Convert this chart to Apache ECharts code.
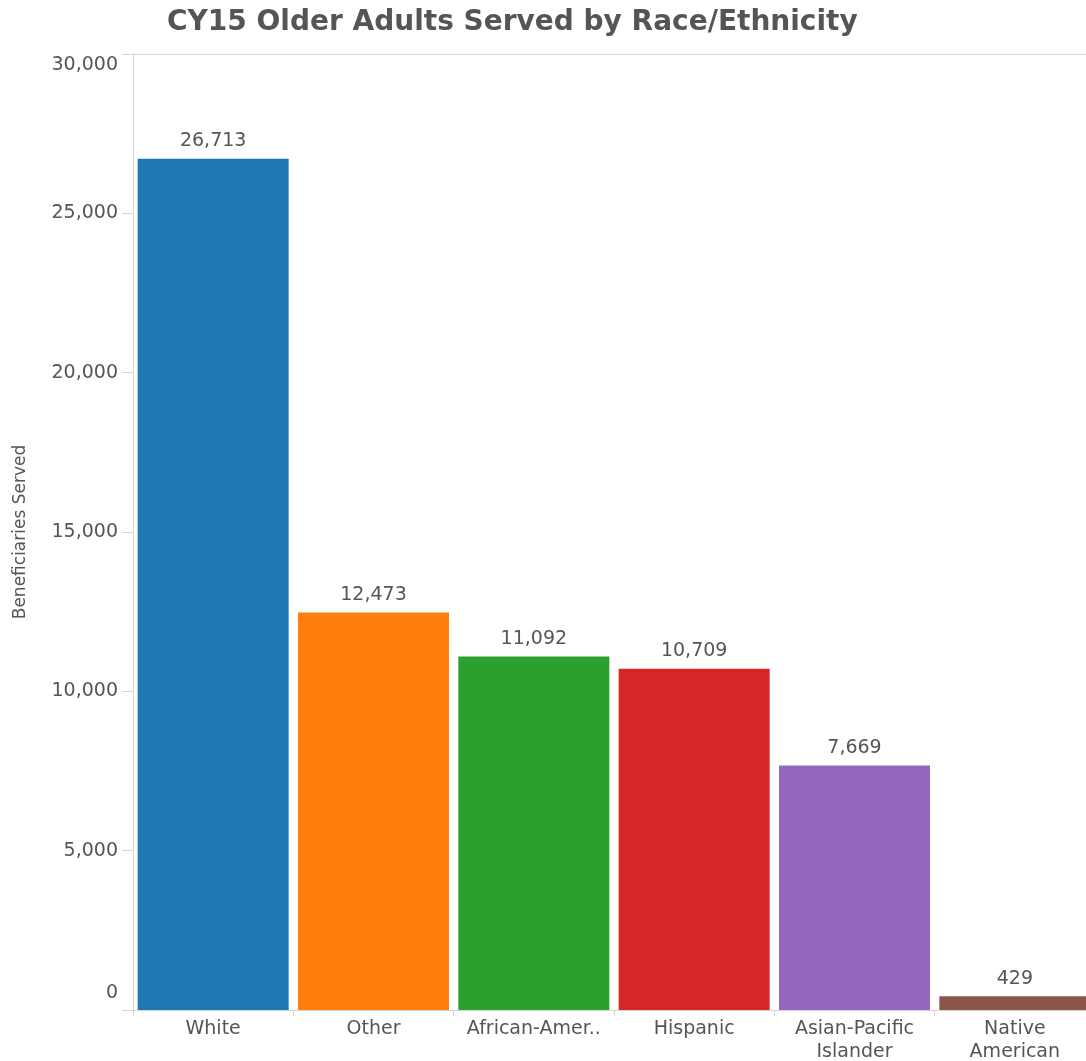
<!DOCTYPE html>
<html>
<head>
<meta charset="utf-8">
<script src="https://cdn.jsdelivr.net/npm/echarts@6/dist/echarts.min.js"></script>
<style>
  html, body { margin: 0; padding: 0; background: #fff; }
  #chart { width: 1086px; height: 1061px; }
</style>
</head>
<body>
<div id="chart"></div>
<script>
// Older adults served in CY15, by race/ethnicity
const groups = ['White', 'Other', 'African-American', 'Hispanic', 'Asian-Pacific Islander', 'Native American'];
const tickLabels = ['White', 'Other', 'African-Amer..', 'Hispanic', 'Asian-Pacific\nIslander', 'Native\nAmerican'];
const served = [26713, 12473, 11092, 10709, 7669, 429];
const barColors = ['#1f77b4', '#ff7f0e', '#2ca02c', '#d62728', '#9467bd', '#8c564b'];
const yTicks = [0, 5000, 10000, 15000, 20000, 25000, 30000];

const FONT = '"DejaVu Sans", Verdana, sans-serif';
const TEXT = '#555';
const RULE = '#d6d6d6';
const LABEL_SIZE = 19;
const fmt = v => Number(v).toLocaleString('en-US');

const chart = echarts.init(document.getElementById('chart'), null, { renderer: 'canvas' });

chart.setOption({
  animation: false,
  backgroundColor: '#fff',
  title: {
    text: 'CY15 Older Adults Served by Race/Ethnicity',
    left: 162,
    top: 4,
    textStyle: { fontFamily: FONT, fontSize: 28, fontWeight: 'bold', color: '#555' }
  },
  grid: { left: 133, right: -9, top: 54, bottom: 51, containLabel: false, outerBoundsMode: 'none' },
  xAxis: [
    {
      type: 'category',
      data: groups,
      position: 'bottom',
      axisLine: { show: true, lineStyle: { color: RULE, width: 1 } },
      axisTick: { show: true, length: 6, lineStyle: { color: RULE } },
      axisLabel: {
        interval: 0,
        margin: 8,
        color: TEXT,
        fontFamily: FONT,
        fontSize: LABEL_SIZE,
        lineHeight: 23,
        formatter: (v, i) => tickLabels[i]
      }
    },
    {
      type: 'category',
      data: groups,
      position: 'top',
      axisLine: { show: true, lineStyle: { color: RULE, width: 1 } },
      axisTick: { show: false },
      axisLabel: { show: false }
    }
  ],
  yAxis: {
    type: 'value',
    name: 'Beneficiaries Served',
    nameLocation: 'middle',
    nameGap: 104,
    nameRotate: 90,
    nameTextStyle: { fontFamily: FONT, fontSize: 17, color: TEXT },
    min: yTicks[0],
    max: yTicks[yTicks.length - 1],
    interval: yTicks[1] - yTicks[0],
    axisLine: { show: true, lineStyle: { color: RULE, width: 1 } },
    axisTick: { show: true, length: 11, lineStyle: { color: RULE } },
    splitLine: { show: false },
    axisLabel: {
      margin: 15,
      color: TEXT,
      fontFamily: FONT,
      fontSize: LABEL_SIZE,
      formatter: v => {
        if (v === yTicks[0]) return '{lo|' + fmt(v) + '}';
        if (v === yTicks[yTicks.length - 1]) return '{hi|' + fmt(v) + '}';
        return fmt(v);
      },
      rich: {
        lo: { fontFamily: FONT, fontSize: LABEL_SIZE, color: TEXT, padding: [0, 0, 34, 0] },
        hi: { fontFamily: FONT, fontSize: LABEL_SIZE, color: TEXT, padding: [22, 0, 0, 0] }
      }
    }
  },
  series: [{
    type: 'bar',
    data: served.map((v, i) => ({ value: v, itemStyle: { color: barColors[i] } })),
    barWidth: 151,
    label: {
      show: true,
      position: 'top',
      distance: 8,
      color: TEXT,
      fontFamily: FONT,
      fontSize: LABEL_SIZE,
      formatter: p => fmt(p.value)
    }
  }]
});
</script>
</body>
</html>
